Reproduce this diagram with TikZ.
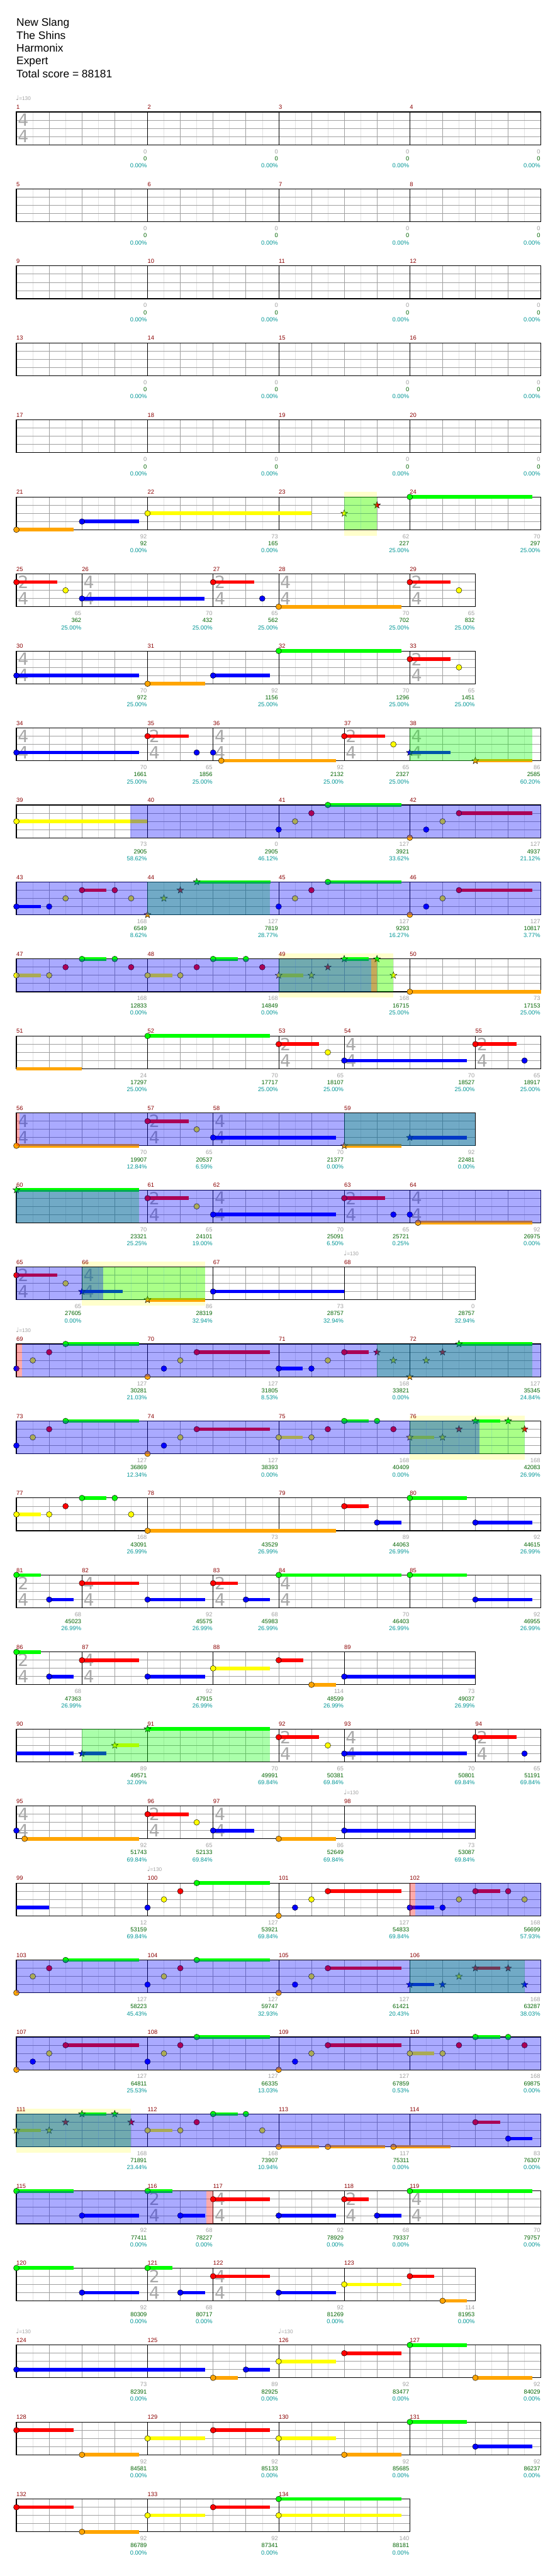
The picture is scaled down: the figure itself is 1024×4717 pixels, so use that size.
\documentclass[tikz,border=0pt]{standalone}
\usepackage{fontspec}
\setmainfont{Liberation Sans}
\newfontfamily\sigfam{DejaVu Sans}
\definecolor{nG}{RGB}{0,255,0}
\definecolor{nR}{RGB}{255,0,0}
\definecolor{nY}{RGB}{255,255,0}
\definecolor{nB}{RGB}{0,0,255}
\definecolor{nO}{RGB}{255,165,0}
\definecolor{mred}{RGB}{139,0,0}
\definecolor{sgray}{RGB}{160,160,160}
\definecolor{sgreen}{RGB}{0,100,0}
\definecolor{steal}{RGB}{0,150,150}
\definecolor{gridlt}{RGB}{226,226,226}
\definecolor{gridmd}{RGB}{160,160,160}
\definecolor{tsgray}{RGB}{168,168,168}
\definecolor{ybg}{RGB}{255,255,204}
\newcommand\scorefont{\fontsize{10.8}{12}\selectfont}
\newcommand\hdrfont{\fontsize{20}{23}\selectfont}
\newcommand\sigfont{\sigfam\fontsize{31}{31}\selectfont}
\newcommand\tempofont{\fontsize{9.5}{10}\selectfont}
\def\lnG{0}\def\lnR{1}\def\lnY{2}\def\lnB{3}\def\lnO{4}
\newcommand\lane[1]{\csname ln#1\endcsname}
\newcounter{tsc}
\newcounter{tpc}
\tikzset{
  chartrow/.style={shift={(30pt,{-(205+141*#1)*1pt})}, x=60pt, y=-15pt},
  hb/.style={draw=gridlt, line width=0.7pt},
  bt/.style={draw=gridmd, line width=0.7pt},
  hl/.style={draw=gridmd, line width=1pt},
  mb/.style={draw=black, line width=0.7pt},
  frm/.style={draw=black, line width=1.3pt},
  nhd/.style={draw=black, line width=0.5pt},
  sus/.style={line width=6.5pt},
  mnum/.style={font=\scorefont, text=mred, anchor=base west, inner sep=0pt},
  lgray/.style={font=\scorefont, text=sgray, anchor=base east, inner sep=0pt},
  lgreen/.style={font=\scorefont, text=sgreen, anchor=base east, inner sep=0pt},
  lpct/.style={font=\scorefont, text=steal, anchor=base east, inner sep=0pt},
  tsd/.style={font=\sigfont, text=tsgray, anchor=west, inner sep=0pt},
  tmp/.style={font=\tempofont, text=sgray, anchor=base west, inner sep=0pt},
  hdr/.style={font=\hdrfont, anchor=base west, inner sep=0pt},
}
\newcommand\staff[1]{%
  \foreach \k in {1,...,#1} {\draw[hb] (\k-0.5,0) -- (\k-0.5,4);}
  \foreach \k in {1,...,#1} {\draw[bt] (\k,0) -- (\k,4);}
  \foreach \j in {1,2,3} {\draw[hl] (0,\j) -- (#1,\j);}
  \draw[frm] (0,0) rectangle (#1,4);}
\newcommand\meas[6]{%
  \draw[mb] (#1,0) -- (#1,4);
  \node[mnum] (m#3) at ([yshift=5pt]#1,0) {#3};
  \node[lgray] (g#3) at ([xshift=-1pt,yshift=-16pt]{#1+#2},4) {#4};
  \node[lgreen] (c#3) at ([xshift=-1pt,yshift=-29pt]{#1+#2},4) {#5};
  \node[lpct] (p#3) at ([xshift=-1pt,yshift=-42pt]{#1+#2},4) {#6\%};}
\newcommand\tsig[2]{%
  \stepcounter{tsc}%
  \node[tsd] (ts\arabic{tsc}a) at ([xshift=2.5pt]#1,1) {#2};
  \node[tsd] (ts\arabic{tsc}b) at ([xshift=2.5pt]#1,3) {4};}
\newcommand\tmark[1]{%
  \stepcounter{tpc}%
  \node[tmp] (tempo\arabic{tpc}) at ([xshift=-1pt,yshift=21pt]#1,0) {{\sigfam\fontsize{12}{12}\selectfont ♩}=130};}
\newcommand\ybox[2]{\fill[ybg] ([yshift=10pt]#1,0) rectangle ([yshift=-11pt]#2,4);}
\newcommand\spr[3]{\fill[#1, fill opacity=0.333] (#2,0) rectangle (#3,4);}
\newcommand\nhead[2]{\filldraw[nhd, fill=n#1] (#2,\lane{#1}) circle[radius=5.2pt];}
\newcommand\ntail[3]{\draw[sus, draw=n#1] (#2,\lane{#1}) -- (#3,\lane{#1});}
\newcommand\nsus[3]{\ntail{#1}{#2}{#3}\nhead{#1}{#2}}
\newcommand\shead[2]{\filldraw[nhd, fill=n#1, shift={(#2,\lane{#1})}] (90:6.6pt) -- (126:2.7pt) -- (162:6.6pt) -- (198:2.7pt) -- (234:6.6pt) -- (270:2.7pt) -- (306:6.6pt) -- (342:2.7pt) -- (18:6.6pt) -- (54:2.7pt) -- cycle;}
\newcommand\ssus[3]{\ntail{#1}{#2}{#3}\shead{#1}{#2}}
\begin{document}
\begin{tikzpicture}
  \fill[white] (0,0) rectangle (1024pt,-4717pt);
  \useasboundingbox (0,0) rectangle (1024pt,-4717pt);
  \node[hdr] (title) at (30pt,-48pt) {New Slang};
  \node[hdr] (artist) at (30pt,-72pt) {The Shins};
  \node[hdr] (author) at (30pt,-95pt) {Harmonix};
  \node[hdr] (level) at (30pt,-118pt) {Expert};
  \node[hdr] (total) at (30pt,-142pt) {Total score = 88181};

  \begin{scope}[chartrow=0]
    \staff{16}
    \meas{0}{4}{1}{0}{0}{0.00}\meas{4}{4}{2}{0}{0}{0.00}\meas{8}{4}{3}{0}{0}{0.00}\meas{12}{4}{4}{0}{0}{0.00}
    \tsig{0}{4}
    \tmark{0}
  \end{scope}
  \foreach \r/\a in {1/5,2/9,3/13,4/17} {
    \begin{scope}[chartrow=\r]
      \staff{16}
      \foreach \q in {0,...,3} {
        \pgfmathtruncatemacro\mm{\a+\q}
        \meas{4*\q}{4}{\mm}{0}{0}{0.00}
      }
    \end{scope}
  }

  \begin{scope}[chartrow=5]
    \ybox{10}{11}
    \staff{16}
    \meas{0}{4}{21}{92}{92}{0.00}\meas{4}{4}{22}{73}{165}{0.00}\meas{8}{4}{23}{62}{227}{25.00}\meas{12}{4}{24}{70}{297}{25.00}
    \nsus{O}{0}{1.74}\nsus{B}{2}{3.74}\nsus{Y}{4}{9}\shead{Y}{10}\shead{R}{11}\nsus{G}{12}{15.74}
    \spr{green}{10}{11}
  \end{scope}

  \begin{scope}[chartrow=6]
    \staff{14}
    \meas{0}{2}{25}{65}{362}{25.00}\meas{2}{4}{26}{70}{432}{25.00}\meas{6}{2}{27}{65}{562}{25.00}\meas{8}{4}{28}{70}{702}{25.00}\meas{12}{2}{29}{65}{832}{25.00}
    \tsig{0}{2}\tsig{2}{4}\tsig{6}{2}\tsig{8}{4}\tsig{12}{2}
    \nsus{R}{0}{1.24}\nhead{Y}{1.5}\nsus{B}{2}{5.74}\nsus{R}{6}{7.25}\nhead{B}{7.5}\nsus{O}{8}{11.74}\nsus{R}{12}{13.25}\nhead{Y}{13.5}
  \end{scope}

  \begin{scope}[chartrow=7]
    \staff{14}
    \meas{0}{4}{30}{70}{972}{25.00}\meas{4}{4}{31}{92}{1156}{25.00}\meas{8}{4}{32}{70}{1296}{25.00}\meas{12}{2}{33}{65}{1451}{25.00}
    \tsig{0}{4}\tsig{12}{2}
    \nsus{B}{0}{3.74}\nsus{O}{4}{5.75}\nsus{B}{6}{7.74}\nsus{G}{8}{11.74}\nsus{R}{12}{13.25}\nhead{Y}{13.5}
  \end{scope}

  \begin{scope}[chartrow=8]
    \staff{16}
    \meas{0}{4}{34}{70}{1661}{25.00}\meas{4}{2}{35}{65}{1856}{25.00}\meas{6}{4}{36}{92}{2132}{25.00}\meas{10}{2}{37}{65}{2327}{25.00}\meas{12}{4}{38}{86}{2585}{60.20}
    \tsig{0}{4}\tsig{4}{2}\tsig{6}{4}\tsig{10}{2}\tsig{12}{4}
    \nsus{B}{0}{3.74}\nsus{R}{4}{5.25}\nhead{B}{5.5}\nhead{B}{6}\nsus{O}{6.25}{9.74}\nsus{R}{10}{11.24}\nhead{Y}{11.5}\ssus{B}{12}{13.25}\ssus{O}{14}{15.74}
    \spr{green}{12}{15.74}
  \end{scope}

  \begin{scope}[chartrow=9]
    \staff{16}
    \meas{0}{4}{39}{73}{2905}{58.62}\meas{4}{4}{40}{0}{2905}{46.12}\meas{8}{4}{41}{127}{3921}{33.62}\meas{12}{4}{42}{127}{4937}{21.12}
    \nsus{Y}{0}{4}\nhead{B}{8}\nhead{Y}{8.5}\nhead{R}{9}\nsus{G}{9.5}{11.74}\nhead{O}{12}\nhead{B}{12.5}\nhead{Y}{13}\nsus{R}{13.5}{15.74}
    \spr{blue}{3.47}{16}
  \end{scope}

  \begin{scope}[chartrow=10]
    \staff{16}
    \meas{0}{4}{43}{168}{6549}{8.62}\meas{4}{4}{44}{127}{7819}{28.77}\meas{8}{4}{45}{127}{9293}{16.27}\meas{12}{4}{46}{127}{10817}{3.77}
    \nsus{B}{0}{0.74}\nhead{B}{1}\nhead{Y}{1.5}\nsus{R}{2}{2.74}\nhead{R}{3}\nhead{Y}{3.5}\shead{O}{4}\shead{Y}{4.5}\shead{R}{5}\ssus{G}{5.5}{7.75}
    \nhead{B}{8}\nhead{Y}{8.5}\nhead{R}{9}\nsus{G}{9.5}{11.74}\nhead{O}{12}\nhead{B}{12.5}\nhead{Y}{13}\nsus{R}{13.5}{15.74}
    \spr{green}{4}{7.74}\spr{blue}{0}{16}
  \end{scope}

  \begin{scope}[chartrow=11]
    \ybox{8}{11.5}
    \staff{16}
    \meas{0}{4}{47}{168}{12833}{0.00}\meas{4}{4}{48}{168}{14849}{0.00}\meas{8}{4}{49}{168}{16715}{25.00}\meas{12}{4}{50}{73}{17153}{25.00}
    \nsus{Y}{0}{0.74}\nhead{Y}{1}\nhead{R}{1.5}\nsus{G}{2}{2.74}\nhead{G}{3}\nhead{R}{3.5}\nsus{Y}{4}{4.75}\nhead{Y}{5}\nhead{R}{5.5}\nsus{G}{6}{6.75}\nhead{G}{7}\nhead{R}{7.5}
    \ssus{Y}{8}{8.75}\shead{Y}{9}\shead{R}{9.5}\ssus{G}{10}{10.75}\shead{G}{11}\shead{Y}{11.5}\nsus{O}{12}{16}
    \spr{green}{8}{11.5}\spr{red}{10.83}{11}\spr{blue}{0}{10.83}
  \end{scope}

  \begin{scope}[chartrow=12]
    \staff{16}
    \meas{0}{4}{51}{24}{17297}{25.00}\meas{4}{4}{52}{70}{17717}{25.00}\meas{8}{2}{53}{65}{18107}{25.00}\meas{10}{4}{54}{70}{18527}{25.00}\meas{14}{2}{55}{65}{18917}{25.00}
    \tsig{8}{2}\tsig{10}{4}\tsig{14}{2}
    \ntail{O}{0}{2}\nsus{G}{4}{7.74}\nsus{R}{8}{9.24}\nhead{Y}{9.5}\nsus{B}{10}{13.74}\nsus{R}{14}{15.25}\nhead{B}{15.5}
  \end{scope}

  \begin{scope}[chartrow=13]
    \staff{14}
    \meas{0}{4}{56}{70}{19907}{12.84}\meas{4}{2}{57}{65}{20537}{6.59}\meas{6}{4}{58}{70}{21377}{0.00}\meas{10}{4}{59}{92}{22481}{0.00}
    \tsig{0}{4}\tsig{4}{2}\tsig{6}{4}
    \nsus{O}{0}{3.74}\nsus{R}{4}{5.25}\nhead{Y}{5.5}\nsus{B}{6}{9.74}\ssus{O}{10}{11.74}\ssus{B}{12}{13.74}
    \spr{green}{10}{14}\spr{red}{0}{0.09}\spr{blue}{0.09}{14}
  \end{scope}

  \begin{scope}[chartrow=14]
    \staff{16}
    \meas{0}{4}{60}{70}{23321}{25.25}\meas{4}{2}{61}{65}{24101}{19.00}\meas{6}{4}{62}{70}{25091}{6.50}\meas{10}{2}{63}{65}{25721}{0.25}\meas{12}{4}{64}{92}{26975}{0.00}
    \tsig{4}{2}\tsig{6}{4}\tsig{10}{2}\tsig{12}{4}
    \ssus{G}{0}{3.74}\nsus{R}{4}{5.25}\nhead{Y}{5.5}\nsus{B}{6}{9.74}\nsus{R}{10}{11.24}\nhead{B}{11.5}\nhead{B}{12}\nsus{O}{12.25}{15.74}
    \spr{green}{0}{3.74}\spr{blue}{0}{16}
  \end{scope}

  \begin{scope}[chartrow=15]
    \ybox{2}{5.75}
    \staff{14}
    \meas{0}{2}{65}{65}{27605}{0.00}\meas{2}{4}{66}{86}{28319}{32.94}\meas{6}{4}{67}{73}{28757}{32.94}\meas{10}{4}{68}{0}{28757}{32.94}
    \tsig{0}{2}\tsig{2}{4}
    \tmark{10}
    \nsus{R}{0}{1.24}\nhead{Y}{1.5}\ssus{B}{2}{3.24}\ssus{O}{4}{5.75}\nsus{B}{6}{10}
    \spr{green}{2}{5.75}\spr{blue}{0}{2.64}
  \end{scope}

  \begin{scope}[chartrow=16]
    \staff{16}
    \meas{0}{4}{69}{127}{30281}{21.03}\meas{4}{4}{70}{127}{31805}{8.53}\meas{8}{4}{71}{168}{33821}{0.00}\meas{12}{4}{72}{127}{35345}{24.84}
    \tmark{0}
    \nhead{B}{0}\nhead{Y}{0.5}\nhead{R}{1}\nsus{G}{1.5}{3.74}\nhead{O}{4}\nhead{B}{4.5}\nhead{Y}{5}\nsus{R}{5.5}{7.74}\nsus{B}{8}{8.74}\nhead{B}{9}\nhead{Y}{9.5}\nsus{R}{10}{10.74}
    \shead{R}{11}\shead{Y}{11.5}\shead{O}{12}\shead{Y}{12.5}\shead{R}{13}\ssus{G}{13.5}{15.74}
    \spr{green}{11}{15.74}\spr{red}{0}{0.18}\spr{blue}{0.18}{16}
  \end{scope}

  \begin{scope}[chartrow=17]
    \ybox{12}{15.5}
    \staff{16}
    \meas{0}{4}{73}{127}{36869}{12.34}\meas{4}{4}{74}{127}{38393}{0.00}\meas{8}{4}{75}{168}{40409}{0.00}\meas{12}{4}{76}{168}{42083}{26.99}
    \nhead{B}{0}\nhead{Y}{0.5}\nhead{R}{1}\nsus{G}{1.5}{3.74}\nhead{O}{4}\nhead{B}{4.5}\nhead{Y}{5}\nsus{R}{5.5}{7.74}\nsus{Y}{8}{8.74}\nhead{Y}{9}\nhead{R}{9.5}\nsus{G}{10}{10.74}\nhead{G}{11}\nhead{R}{11.5}
    \ssus{Y}{12}{12.75}\shead{Y}{13}\shead{R}{13.5}\ssus{G}{14}{14.75}\shead{G}{15}\shead{R}{15.5}
    \spr{green}{12}{15.5}\spr{blue}{0}{14.13}
  \end{scope}

  \begin{scope}[chartrow=18]
    \staff{16}
    \meas{0}{4}{77}{168}{43091}{26.99}\meas{4}{4}{78}{73}{43529}{26.99}\meas{8}{4}{79}{89}{44063}{26.99}\meas{12}{4}{80}{92}{44615}{26.99}
    \nsus{Y}{0}{0.74}\nhead{Y}{1}\nhead{R}{1.5}\nsus{G}{2}{2.74}\nhead{G}{3}\nhead{Y}{3.5}\nsus{O}{4}{9.74}\nsus{R}{10}{10.74}\nsus{B}{11}{11.74}\nsus{G}{12}{13.74}\nsus{B}{14}{15.74}
  \end{scope}

  \begin{scope}[chartrow=19]
    \staff{16}
    \meas{0}{2}{81}{68}{45023}{26.99}\meas{2}{4}{82}{92}{45575}{26.99}\meas{6}{2}{83}{68}{45983}{26.99}\meas{8}{4}{84}{70}{46403}{26.99}\meas{12}{4}{85}{92}{46955}{26.99}
    \tsig{0}{2}\tsig{2}{4}\tsig{6}{2}\tsig{8}{4}
    \nsus{G}{0}{0.74}\nsus{B}{1}{1.74}\nsus{R}{2}{3.74}\nsus{B}{4}{5.75}\nsus{R}{6}{6.75}\nsus{B}{7}{7.74}\nsus{G}{8}{11.74}\nsus{G}{12}{13.74}\nsus{B}{14}{15.74}
  \end{scope}

  \begin{scope}[chartrow=20]
    \staff{14}
    \meas{0}{2}{86}{68}{47363}{26.99}\meas{2}{4}{87}{92}{47915}{26.99}\meas{6}{4}{88}{114}{48599}{26.99}\meas{10}{4}{89}{73}{49037}{26.99}
    \tsig{0}{2}\tsig{2}{4}
    \nsus{G}{0}{0.74}\nsus{B}{1}{1.74}\nsus{R}{2}{3.74}\nsus{B}{4}{5.75}\nsus{Y}{6}{7.74}\nsus{R}{8}{8.75}\nsus{O}{9}{9.74}\nsus{B}{10}{14}
  \end{scope}

  \begin{scope}[chartrow=21]
    \staff{16}
    \meas{0}{4}{90}{89}{49571}{32.09}\meas{4}{4}{91}{70}{49991}{69.84}\meas{8}{2}{92}{65}{50381}{69.84}\meas{10}{4}{93}{70}{50801}{69.84}\meas{14}{2}{94}{65}{51191}{69.84}
    \tsig{8}{2}\tsig{10}{4}\tsig{14}{2}
    \ntail{B}{0}{1.74}\ssus{B}{2}{2.74}\ssus{Y}{3}{3.74}\ssus{G}{4}{7.74}\nsus{R}{8}{9.24}\nhead{Y}{9.5}\nsus{B}{10}{13.74}\nsus{R}{14}{15.25}\nhead{B}{15.5}
    \spr{green}{2}{7.74}
  \end{scope}

  \begin{scope}[chartrow=22]
    \staff{14}
    \meas{0}{4}{95}{92}{51743}{69.84}\meas{4}{2}{96}{65}{52133}{69.84}\meas{6}{4}{97}{86}{52649}{69.84}\meas{10}{4}{98}{73}{53087}{69.84}
    \tsig{0}{4}\tsig{4}{2}\tsig{6}{4}
    \tmark{10}
    \nhead{B}{0}\nsus{O}{0.25}{3.74}\nsus{R}{4}{5.25}\nhead{Y}{5.5}\nsus{B}{6}{7.25}\nsus{O}{8}{9.74}\nsus{B}{10}{14}
  \end{scope}

  \begin{scope}[chartrow=23]
    \staff{16}
    \meas{0}{4}{99}{12}{53159}{69.84}\meas{4}{4}{100}{127}{53921}{69.84}\meas{8}{4}{101}{127}{54833}{69.84}\meas{12}{4}{102}{168}{56699}{57.93}
    \tmark{4}
    \ntail{B}{0}{1}\nhead{B}{4}\nhead{Y}{4.5}\nhead{R}{5}\nsus{G}{5.5}{7.74}\nhead{O}{8}\nhead{B}{8.5}\nhead{Y}{9}\nsus{R}{9.5}{11.74}
    \nsus{B}{12}{12.75}\nhead{B}{13}\nhead{Y}{13.5}\nsus{R}{14}{14.75}\nhead{R}{15}\nhead{Y}{15.5}
    \spr{red}{12}{12.17}\spr{blue}{12.17}{16}
  \end{scope}

  \begin{scope}[chartrow=24]
    \staff{16}
    \meas{0}{4}{103}{127}{58223}{45.43}\meas{4}{4}{104}{127}{59747}{32.93}\meas{8}{4}{105}{127}{61421}{20.43}\meas{12}{4}{106}{168}{63287}{38.03}
    \nhead{O}{0}\nhead{Y}{0.5}\nhead{R}{1}\nsus{G}{1.5}{3.74}\nhead{B}{4}\nhead{Y}{4.5}\nhead{R}{5}\nsus{G}{5.5}{7.74}\nhead{O}{8}\nhead{B}{8.5}\nhead{Y}{9}\nsus{R}{9.5}{11.74}
    \ssus{B}{12}{12.75}\shead{B}{13}\shead{Y}{13.5}\ssus{R}{14}{14.75}\shead{R}{15}\shead{B}{15.5}
    \spr{green}{12}{15.5}\spr{blue}{0}{16}
  \end{scope}

  \begin{scope}[chartrow=25]
    \staff{16}
    \meas{0}{4}{107}{127}{64811}{25.53}\meas{4}{4}{108}{127}{66335}{13.03}\meas{8}{4}{109}{127}{67859}{0.53}\meas{12}{4}{110}{168}{69875}{0.00}
    \nhead{O}{0}\nhead{B}{0.5}\nhead{Y}{1}\nsus{R}{1.5}{3.74}\nhead{B}{4}\nhead{Y}{4.5}\nhead{R}{5}\nsus{G}{5.5}{7.74}\nhead{O}{8}\nhead{B}{8.5}\nhead{Y}{9}\nsus{R}{9.5}{11.74}
    \nsus{Y}{12}{12.75}\nhead{Y}{13}\nhead{R}{13.5}\nsus{G}{14}{14.75}\nhead{G}{15}\nhead{R}{15.5}
    \spr{blue}{0}{16}
  \end{scope}

  \begin{scope}[chartrow=26]
    \ybox{0}{3.5}
    \staff{16}
    \meas{0}{4}{111}{168}{71891}{23.44}\meas{4}{4}{112}{168}{73907}{10.94}\meas{8}{4}{113}{117}{75311}{0.00}\meas{12}{4}{114}{83}{76307}{0.00}
    \ssus{Y}{0}{0.75}\shead{Y}{1}\shead{R}{1.5}\ssus{G}{2}{2.74}\shead{G}{3}\shead{R}{3.5}\nsus{Y}{4}{4.75}\nhead{Y}{5}\nhead{R}{5.5}\nsus{G}{6}{6.75}\nhead{G}{7}\nhead{Y}{7.5}
    \nsus{O}{8}{9.24}\nsus{O}{9.5}{11.24}\nsus{O}{11.5}{13.25}\nsus{R}{14}{14.75}\nsus{B}{15}{15.74}
    \spr{green}{0}{3.5}\spr{blue}{0}{16}
  \end{scope}

  \begin{scope}[chartrow=27]
    \staff{16}
    \meas{0}{4}{115}{92}{77411}{0.00}\meas{4}{2}{116}{68}{78227}{0.00}\meas{6}{4}{117}{92}{78929}{0.00}\meas{10}{2}{118}{68}{79337}{0.00}\meas{12}{4}{119}{70}{79757}{0.00}
    \tsig{4}{2}\tsig{6}{4}\tsig{10}{2}\tsig{12}{4}
    \nsus{G}{0}{1.74}\nsus{B}{2}{3.74}\nsus{G}{4}{4.75}\nsus{B}{5}{5.75}\nsus{R}{6}{7.74}\nsus{B}{8}{9.74}\nsus{R}{10}{10.75}\nsus{B}{11}{11.74}\nsus{G}{12}{15.74}
    \spr{red}{5.79}{6}\spr{blue}{0}{5.79}
  \end{scope}

  \begin{scope}[chartrow=28]
    \staff{14}
    \meas{0}{4}{120}{92}{80309}{0.00}\meas{4}{2}{121}{68}{80717}{0.00}\meas{6}{4}{122}{92}{81269}{0.00}\meas{10}{4}{123}{114}{81953}{0.00}
    \tsig{4}{2}\tsig{6}{4}
    \nsus{G}{0}{1.74}\nsus{B}{2}{3.74}\nsus{G}{4}{4.75}\nsus{B}{5}{5.75}\nsus{R}{6}{7.74}\nsus{B}{8}{9.74}\nsus{Y}{10}{11.74}\nsus{R}{12}{12.75}\nsus{O}{13}{13.75}
  \end{scope}

  \begin{scope}[chartrow=29]
    \staff{16}
    \meas{0}{4}{124}{73}{82391}{0.00}\meas{4}{4}{125}{89}{82925}{0.00}\meas{8}{4}{126}{92}{83477}{0.00}\meas{12}{4}{127}{92}{84029}{0.00}
    \tmark{0}\tmark{8}
    \nsus{B}{0}{5.75}\nsus{O}{6}{6.75}\nsus{B}{7}{7.74}\nsus{Y}{8}{9.74}\nsus{R}{10}{11.74}\nsus{G}{12}{13.74}\nsus{O}{14}{15.74}
  \end{scope}

  \begin{scope}[chartrow=30]
    \staff{16}
    \meas{0}{4}{128}{92}{84581}{0.00}\meas{4}{4}{129}{92}{85133}{0.00}\meas{8}{4}{130}{92}{85685}{0.00}\meas{12}{4}{131}{92}{86237}{0.00}
    \nsus{R}{0}{1.74}\nsus{O}{2}{3.74}\nsus{Y}{4}{5.75}\nsus{R}{6}{7.74}\nsus{Y}{8}{9.74}\nsus{O}{10}{11.74}\nsus{G}{12}{13.74}\nsus{B}{14}{15.74}
  \end{scope}

  \begin{scope}[chartrow=31]
    \staff{12}
    \meas{0}{4}{132}{92}{86789}{0.00}\meas{4}{4}{133}{92}{87341}{0.00}\meas{8}{4}{134}{140}{88181}{0.00}
    \nsus{R}{0}{1.74}\nsus{O}{2}{3.74}\nsus{Y}{4}{5.75}\nsus{R}{6}{7.74}\nsus{G}{8}{11.74}\nsus{Y}{8}{11.74}
  \end{scope}
\end{tikzpicture}
\end{document}
